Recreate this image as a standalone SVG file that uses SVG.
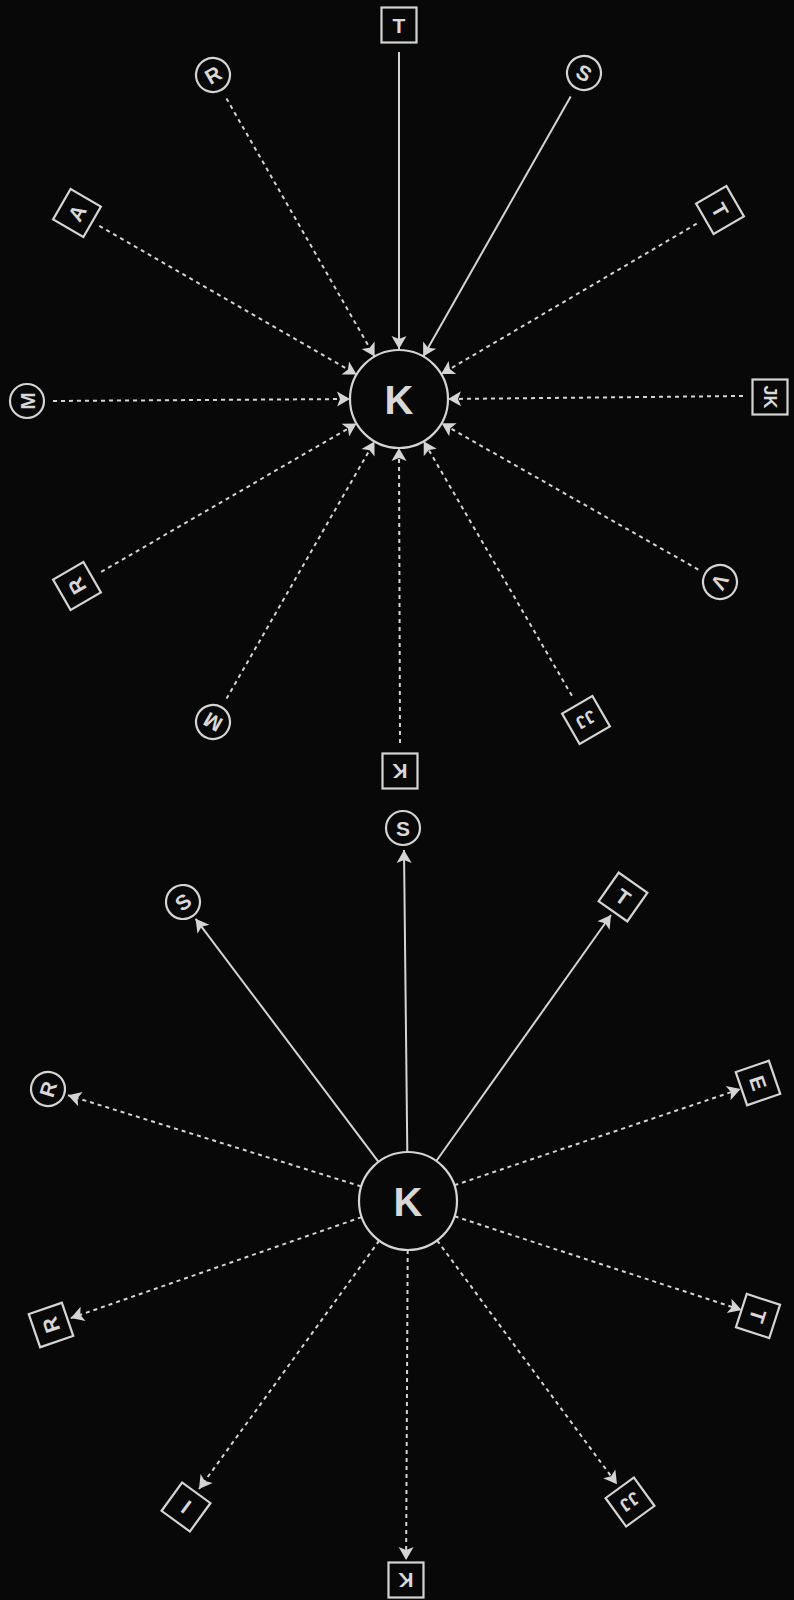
<svg xmlns="http://www.w3.org/2000/svg" width="794" height="1600" viewBox="0 0 794 1600">
<defs>
<style>
.nd{fill:none;stroke:#d4d4d4;stroke-width:2.2}
.lb{font-family:"Liberation Sans",Arial,sans-serif;font-weight:bold;fill:#d8d8d8;text-anchor:middle;font-size:21px}
.sm{font-size:18px}
.big{font-size:40px}
.ln{stroke:#d4d4d4;stroke-width:2;fill:none;marker-end:url(#ah)}
.d{stroke-dasharray:4 4}
</style>
<marker id="ah" viewBox="-15 -9 16 18" markerWidth="16" markerHeight="18" refX="0" refY="0" orient="auto" markerUnits="userSpaceOnUse">
<path d="M0,0 L-13,-7.5 L-10,0 L-13,7.5 Z" fill="#d4d4d4"/>
</marker>
</defs>
<rect width="794" height="1600" fill="#080808"/>

<g id="connectors">
<line class="ln" x1="399" y1="52" x2="399" y2="349"/>
<line class="ln" x1="570.7" y1="96.5" x2="423.2" y2="356.4"/>
<line class="ln d" x1="226.4" y1="98.4" x2="374.6" y2="356.5"/>
<line class="ln d" x1="99.3" y1="225.9" x2="356.6" y2="374.5"/>
<line class="ln d" x1="696.7" y1="223.7" x2="441.2" y2="374.1"/>
<line class="ln d" x1="743" y1="396" x2="448" y2="399"/>
<line class="ln d" x1="698.3" y1="569.6" x2="441.6" y2="423.3"/>
<line class="ln d" x1="571.9" y1="695.8" x2="423.7" y2="441.3"/>
<line class="ln d" x1="400" y1="743" x2="399" y2="448"/>
<line class="ln d" x1="226.5" y1="698.6" x2="374.5" y2="441.5"/>
<line class="ln d" x1="101.2" y1="571.9" x2="356.6" y2="423.6"/>
<line class="ln d" x1="53" y1="401" x2="350" y2="399"/>

<line class="ln" x1="407.3" y1="1152" x2="404" y2="850"/>
<line class="ln" x1="436.3" y1="1161" x2="611" y2="915"/>
<line class="ln" x1="378.5" y1="1161.8" x2="195.6" y2="918.8"/>
<line class="ln d" x1="361.2" y1="1186.4" x2="68" y2="1095.2"/>
<line class="ln d" x1="454.4" y1="1185.3" x2="740.5" y2="1089"/>
<line class="ln d" x1="454.6" y1="1216.3" x2="741.5" y2="1310"/>
<line class="ln d" x1="437.1" y1="1240.4" x2="617" y2="1484.3"/>
<line class="ln d" x1="407.7" y1="1250" x2="406.1" y2="1560"/>
<line class="ln d" x1="379.2" y1="1240.7" x2="199" y2="1489"/>
<line class="ln d" x1="361.7" y1="1217.1" x2="70.8" y2="1318.1"/>
</g>

<g id="hub1" transform="translate(399,399)"><circle class="nd" r="49"/><text class="lb big" y="14.5">K</text></g>
<g id="t1" transform="translate(399,25)"><rect class="nd" x="-17.5" y="-17.5" width="35" height="35"/><text class="lb" y="7.5">T</text></g>
<g id="t2" transform="translate(584,73) rotate(30)"><circle class="nd" r="17"/><text class="lb" y="7.5">S</text></g>
<g id="t3" transform="translate(213,75) rotate(-30)"><circle class="nd" r="17"/><text class="lb" y="7.5">R</text></g>
<g id="t4" transform="translate(77,213) rotate(-60)"><rect class="nd" x="-17.5" y="-17.5" width="35" height="35"/><text class="lb" y="7.5">A</text></g>
<g id="t5" transform="translate(720,210) rotate(60)"><rect class="nd" x="-17.5" y="-17.5" width="35" height="35"/><text class="lb" y="7.5">T</text></g>
<g id="t6" transform="translate(770,397) rotate(90)"><rect class="nd" x="-17.5" y="-17.5" width="35" height="35"/><text class="lb sm" y="6.5">JK</text></g>
<g id="t7" transform="translate(720,582) rotate(120)"><circle class="nd" r="17"/><text class="lb" y="7.5">V</text></g>
<g id="t8" transform="translate(586,720) rotate(150)"><rect class="nd" x="-17.5" y="-17.5" width="35" height="35"/><text class="lb sm" y="6.5">JJ</text></g>
<g id="t9" transform="translate(400,771) rotate(180)"><rect class="nd" x="-17.5" y="-17.5" width="35" height="35"/><text class="lb" y="7.5">K</text></g>
<g id="t10" transform="translate(213,722) rotate(210)"><circle class="nd" r="17"/><text class="lb" y="7.5">M</text></g>
<g id="t11" transform="translate(77,586) rotate(240)"><rect class="nd" x="-17.5" y="-17.5" width="35" height="35"/><text class="lb" y="7.5">R</text></g>
<g id="t12" transform="translate(27,401) rotate(270)"><circle class="nd" r="17"/><text class="lb" y="7.5">M</text></g>

<g id="hub2" transform="translate(408,1201)"><circle class="nd" r="49"/><text class="lb big" y="14.5">K</text></g>
<g id="b1" transform="translate(403,828)"><circle class="nd" r="17"/><text class="lb" y="7.5">S</text></g>
<g id="b2" transform="translate(623,897) rotate(35)"><rect class="nd" x="-17.5" y="-17.5" width="35" height="35"/><text class="lb" y="7.5">T</text></g>
<g id="b3" transform="translate(183,902) rotate(-37)"><circle class="nd" r="17"/><text class="lb" y="7.5">S</text></g>
<g id="b4" transform="translate(48,1089) rotate(-73)"><circle class="nd" r="17"/><text class="lb" y="7.5">R</text></g>
<g id="b5" transform="translate(758,1083) rotate(71)"><rect class="nd" x="-17.5" y="-17.5" width="35" height="35"/><text class="lb" y="7.5">E</text></g>
<g id="b6" transform="translate(758,1316) rotate(108)"><rect class="nd" x="-17.5" y="-17.5" width="35" height="35"/><text class="lb" y="7.5">T</text></g>
<g id="b7" transform="translate(630,1502) rotate(144)"><rect class="nd" x="-17.5" y="-17.5" width="35" height="35"/><text class="lb sm" y="6.5">JJ</text></g>
<g id="b8" transform="translate(406,1580) rotate(180)"><rect class="nd" x="-17.5" y="-17.5" width="35" height="35"/><text class="lb" y="7.5">K</text></g>
<g id="b9" transform="translate(186,1507) rotate(216)"><rect class="nd" x="-17.5" y="-17.5" width="35" height="35"/><text class="lb" y="7.5">I</text></g>
<g id="b10" transform="translate(51,1325) rotate(251)"><rect class="nd" x="-17.5" y="-17.5" width="35" height="35"/><text class="lb" y="7.5">R</text></g>
</svg>
